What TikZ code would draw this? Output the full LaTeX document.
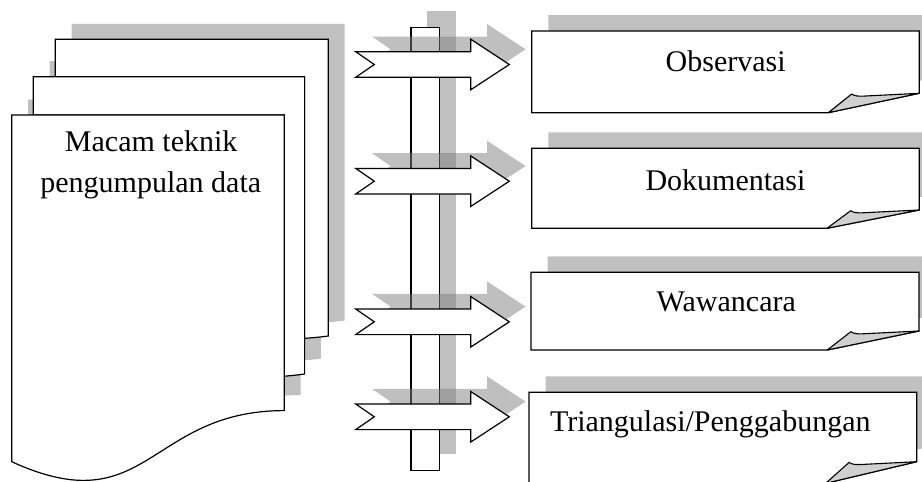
\documentclass[tikz,border=0pt]{standalone}
\usepackage{fontspec}
\setmainfont{Liberation Serif}
\definecolor{shd}{RGB}{192,192,192}
\definecolor{ashd}{RGB}{128,128,128}
\definecolor{foldc}{RGB}{208,208,208}
\tikzset{
  outl/.style={draw=black, line width=1.2pt, line join=miter},
  lbl/.style={font=\fontsize{30}{36}\selectfont, inner sep=0pt, anchor=base},
  pshadow/.style={fill=shd, shift={(16.3,-15.5)}},
  ashadow/.style={fill=ashd, fill opacity=0.5, shift={(16.3,-15.2)}},
  bshadow/.style={fill=shd, shift={(16.6,-16)}}
}
% pages of the multi-document shape
\newcommand\backpage[1]{\path[#1] (55.3,39.3) -- (328.3,39.3) -- (328.3,336) .. controls (317,337.6) and (304.6,338.3) .. (304.6,338.3) -- (304.6,76.7) -- (55.3,76.7) -- cycle;}
\newcommand\midpage[1]{\path[#1] (33.3,76.7) -- (304.6,76.7) -- (304.6,374) .. controls (296,375.3) and (284.3,376.2) .. (284.3,376.2) -- (284.3,115) -- (33.3,115) -- cycle;}
\newcommand\frontpage[1]{\path[#1] (11.7,115) -- (284.3,115) -- (284.3,410.6) .. controls (148,410.6) and (148,524) .. (11.7,461.7) -- cycle;}
% notched arrow centred at y=#2
\newcommand\notcharrow[2]{\path[#1] (355.7,{#2-12.8}) -- (470.7,{#2-12.8}) -- (470.7,{#2-25.3}) -- (509.3,#2) -- (470.7,{#2+25.3}) -- (470.7,{#2+12.8}) -- (355.7,{#2+12.8}) -- (374.3,#2) -- cycle;}
% folded-corner box: L,T,R,B,xB,yR
\newcommand\foldbox[6]{%
  \fill[bshadow] (#1,#2) -- (#3,#2) -- (#3,#6) -- (#5,#4) -- (#1,#4) -- cycle;
  \path[outl, fill=white] (#1,#2) -- (#3,#2) -- (#3,#6) -- (#5,#4) -- (#1,#4) -- cycle;
  \pgfmathsetmacro\fxi{#5+0.257*(#3-#5)}%
  \pgfmathsetmacro\fyi{#6+0.7}%
  \path[draw=black, line width=1.1pt, line join=round, fill=foldc] (#5,#4) -- (\fxi,\fyi)
     .. controls ({\fxi+3},{\fyi+2.2}) and ({\fxi+7},{\fyi+2.3}) .. ({\fxi+12},{\fyi+2.1}) -- (#3,#6) -- cycle;
}
\begin{document}
\begin{tikzpicture}[x=1pt, y=-1pt]
\useasboundingbox (0,0) rectangle (922,482);
\clip (0,0) rectangle (922,482);
% multi-document
\backpage{pshadow}
\midpage{pshadow}
\frontpage{pshadow}
\backpage{outl, fill=white}
\midpage{outl, fill=white}
\frontpage{outl, fill=white}
\node[lbl] (mt1) at (151.2,151.7) {Macam teknik};
\node[lbl] (mt2) at (150.8,192.7) {pengumpulan data};
% vertical bar
\fill[shd] (427.3,11) rectangle (455.7,454);
\path[outl, fill=white] (411,27.7) rectangle (439.5,470.7);
% arrows
\notcharrow{ashadow}{64.5}
\notcharrow{ashadow}{181.2}
\notcharrow{ashadow}{321.8}
\notcharrow{ashadow}{416.8}
\notcharrow{outl, fill=white}{64.5}
\notcharrow{outl, fill=white}{181.2}
\notcharrow{outl, fill=white}{321.8}
\notcharrow{outl, fill=white}{416.8}
% boxes
\foldbox{531.7}{31}{919.3}{112.7}{828.3}{93.3}
\foldbox{531.7}{148.3}{919.3}{228.3}{827}{210}
\foldbox{531}{272.3}{919}{350}{827.3}{331}
\foldbox{529}{392.3}{916.7}{483.3}{825.7}{461.7}
\node[lbl] (obs) at (725.7,71.7) {Observasi};
\node[lbl] (dok) at (725.5,190.2) {Dokumentasi};
\node[lbl] (waw) at (726.3,311.7) {Wawancara};
\node[lbl] (tri) at (710.3,431.7) {Triangulasi/Penggabungan};
\end{tikzpicture}
\end{document}
